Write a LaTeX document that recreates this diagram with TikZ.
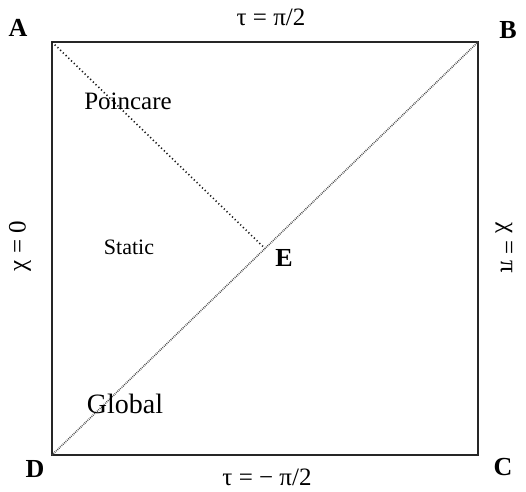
\documentclass[tikz,border=0pt]{standalone}
\usepackage{fontspec}
\setmainfont{Liberation Serif}
\usetikzlibrary{calc}
\begin{document}
\begin{tikzpicture}[x=1pt,y=-1pt,
  corner/.style={font=\fontsize{26}{26}\selectfont\bfseries, inner sep=0pt},
  edgelabel/.style={font=\fontsize{25}{25}\selectfont, inner sep=0pt},
  region/.style={font=\fontsize{25}{25}\selectfont, inner sep=0pt},
  border/.style={draw=black!85, line width=1.4pt},
  lightcone/.style={draw=black!90, line width=1.6pt, dash pattern=on 1.2pt off 2.6pt},
  diag/.style={draw=black!70, line width=1.6pt, dash pattern=on 0.8pt off 1.1pt}]
\useasboundingbox (0,0) rectangle (526,491);
\coordinate (pA) at (52,42);
\coordinate (pB) at (478,42);
\coordinate (pC) at (478,455);
\coordinate (pD) at (52,455);
\coordinate (pE) at ($(pD)!0.5!(pB)$);
\draw[border] (pA) -- (pB) -- (pC) -- (pD) -- cycle;
\draw[diag] (pD) -- (pB);
\draw[lightcone] (pA) -- (pE);
\node[corner] (lA) at (18,28) {A};
\node[corner] (lB) at (508,30) {B};
\node[corner] (lC) at (503,467) {C};
\node[corner] (lD) at (35,469) {D};
\node[corner] (lE) at (284,258) {E};
\node[edgelabel] (top) at (271,17) {τ = π/2};
\node[edgelabel] (bot) at (267,477) {τ = − π/2};
\node[edgelabel, rotate=90] (left) at (20,246) {χ = 0};
\node[edgelabel, rotate=-90] (right) at (504,248) {χ = π};
\node[region] (poin) at (128,101) {Poincare};
\node[region, font=\fontsize{22}{22}\selectfont] (stat) at (129,247) {Static};
\node[region, font=\fontsize{28}{28}\selectfont] (glob) at (125,404) {Global};
\end{tikzpicture}
\end{document}
